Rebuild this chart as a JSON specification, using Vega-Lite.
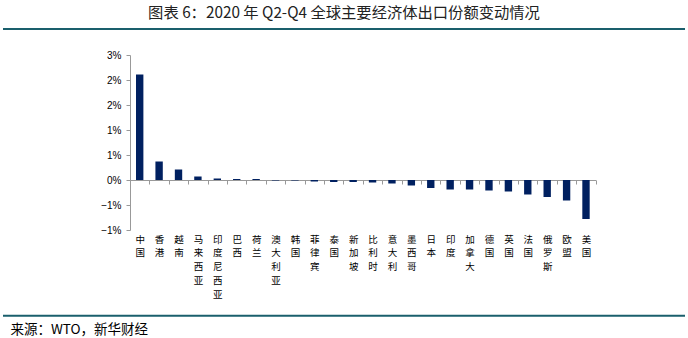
{
  "$schema": "https://vega.github.io/schema/vega-lite/v6.json",
  "width": 682,
  "height": 287,
  "autosize": {"type": "none"},
  "padding": {"left": 3, "top": 29, "right": 3, "bottom": 22},
  "background": "white",
  "config": {"view": {"stroke": null}, "axis": {"grid": false}},
  "title": {
    "text": "图表 6：2020 年 Q2-Q4 全球主要经济体出口份额变动情况",
    "font": "Noto Sans CJK SC",
    "fontSize": 15.3,
    "fontWeight": "normal",
    "color": "#222222",
    "anchor": "middle",
    "offset": 7
  },
  "layer": [
    {
      "data": {
        "values": [
          {"country": "中国", "value": 0.0211},
          {"country": "香港", "value": 0.0037},
          {"country": "越南", "value": 0.0021},
          {"country": "马来西亚", "value": 0.0007},
          {"country": "印度尼西亚", "value": 0.0003},
          {"country": "巴西", "value": 0.0002},
          {"country": "荷兰", "value": 0.0002},
          {"country": "澳大利亚", "value": -0.0001},
          {"country": "韩国", "value": -0.0001},
          {"country": "菲律宾", "value": -0.0003},
          {"country": "泰国", "value": -0.0004},
          {"country": "新加坡", "value": -0.0004},
          {"country": "比利时", "value": -0.0005},
          {"country": "意大利", "value": -0.0007},
          {"country": "墨西哥", "value": -0.0011},
          {"country": "日本", "value": -0.0016},
          {"country": "印度", "value": -0.0019},
          {"country": "加拿大", "value": -0.0019},
          {"country": "德国", "value": -0.0021},
          {"country": "英国", "value": -0.0023},
          {"country": "法国", "value": -0.0029},
          {"country": "俄罗斯", "value": -0.0034},
          {"country": "欧盟", "value": -0.0041},
          {"country": "美国", "value": -0.0078}
        ]
      },
      "mark": {"type": "bar", "color": "#002060", "width": {"band": 0.38}},
      "encoding": {
        "x": {
          "field": "country",
          "type": "nominal",
          "sort": null,
          "scale": {"range": [127, 592.7], "paddingInner": 0, "paddingOuter": 0},
          "axis": {
            "orient": "bottom",
            "offset": -136,
            "domainColor": "#999999",
            "tickColor": "#999999",
            "tickSize": 4,
            "tickBand": "extent",
            "labelAngle": 0,
            "labelAlign": "center",
            "labelBaseline": "top",
            "labelPadding": 50,
            "labelExpr": "split(datum.label, '')",
            "labelFont": "Noto Sans CJK SC",
            "labelFontSize": 9.5,
            "labelLineHeight": 13.8,
            "labelColor": "#000000",
            "labelOverlap": false,
            "labelBound": false,
            "title": "来源：WTO，新华财经",
            "titleX": 7,
            "titleY": 149,
            "titleAlign": "left",
            "titleAnchor": "start",
            "titleBaseline": "middle",
            "titleAngle": 0,
            "titleFont": "Noto Sans CJK SC",
            "titleFontSize": 13.5,
            "titleFontWeight": "normal",
            "titleColor": "#000000"
          }
        },
        "y": {
          "field": "value",
          "type": "quantitative",
          "scale": {"domain": [-0.01, 0.025], "range": [201, 26], "nice": false, "zero": false},
          "axis": {
            "orient": "left",
            "offset": -127,
            "values": [-0.01, -0.005, 0, 0.005, 0.01, 0.015, 0.02, 0.025],
            "format": ".0%",
            "labelFont": "Liberation Sans",
            "labelFontSize": 10,
            "labelColor": "#000000",
            "labelPadding": 5,
            "tickSize": 4,
            "tickColor": "#999999",
            "domainColor": "#999999",
            "title": null
          }
        }
      }
    },
    {
      "data": {"values": [{"line": "header"}]},
      "mark": {"type": "rule", "color": "#1a5f6c", "strokeWidth": 2},
      "encoding": {"y": {"datum": 0.0302, "type": "quantitative", "title": null}}
    },
    {
      "data": {"values": [{"line": "footer"}]},
      "mark": {"type": "rule", "color": "#1a5f6c", "strokeWidth": 2},
      "encoding": {"y": {"datum": -0.02714, "type": "quantitative", "title": null}}
    }
  ]
}
